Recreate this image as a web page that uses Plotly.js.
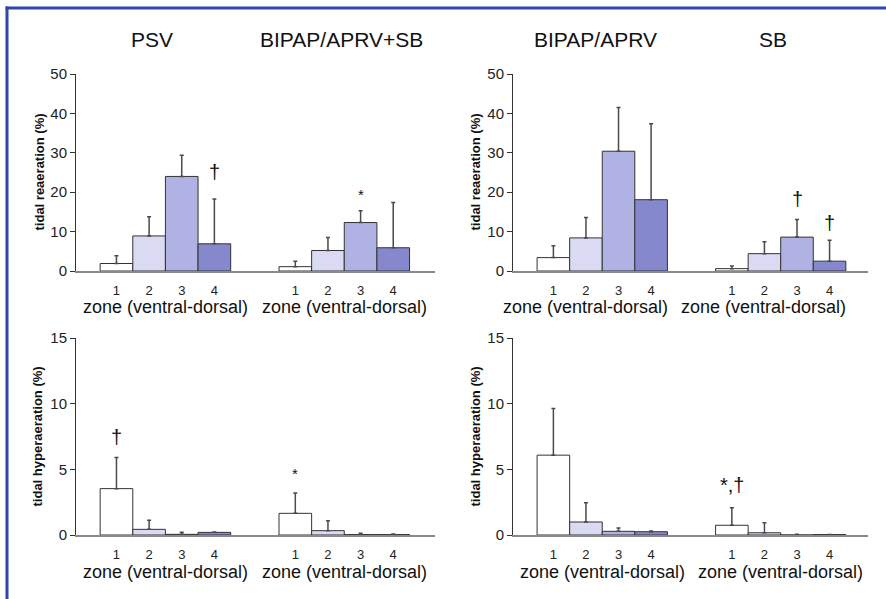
<!DOCTYPE html>
<html>
<head>
<meta charset="utf-8">
<script src="https://cdn.plot.ly/plotly-3.0.1.min.js"></script>
<style>html,body{margin:0;padding:0;background:#fff;}#chart{width:886px;height:599px;}</style>
</head>
<body>
<div id="chart"></div>
<script>
// ---- data ----
const zones = ['1', '2', '3', '4'];
const modeTitlesLeft = ['PSV', 'BIPAP/APRV+SB'];
const modeTitlesRight = ['BIPAP/APRV', 'SB'];
const xAxisLabel = 'zone (ventral-dorsal)';
const yLabelTop = 'tidal reaeration (%)';
const yLabelBottom = 'tidal hyperaeration (%)';

// tidal reaeration (mean, SD)
const reaerPSV = [1.9, 8.9, 24.0, 6.9];
const reaerPSV_sd = [2.0, 4.9, 5.4, 11.4];
const reaerBipapSB = [1.1, 5.2, 12.3, 5.9];
const reaerBipapSB_sd = [1.4, 3.3, 3.0, 11.5];
const reaerBipap = [3.4, 8.4, 30.4, 18.1];
const reaerBipap_sd = [3.0, 5.2, 11.1, 19.3];
const reaerSB = [0.6, 4.4, 8.6, 2.5];
const reaerSB_sd = [0.7, 3.0, 4.5, 5.3];

// tidal hyperaeration (mean, SD)
const hyperPSV = [3.53, 0.43, 0.05, 0.2];
const hyperPSV_sd = [2.37, 0.69, 0.15, 0.03];
const hyperBipapSB = [1.65, 0.33, 0.03, 0.03];
const hyperBipapSB_sd = [1.55, 0.76, 0.1, 0.05];
const hyperBipap = [6.08, 0.99, 0.28, 0.25];
const hyperBipap_sd = [3.55, 1.47, 0.25, 0.05];
const hyperSB = [0.74, 0.17, 0.0, 0.03];
const hyperSB_sd = [1.34, 0.77, 0.05, 0.0];

// significance marks: panel, group, zone index, text, y value
const sigPanel = [0, 0, 1, 1, 2, 2, 3];
const sigGroup = [0, 1, 1, 1, 0, 1, 1];
const sigZone  = [3, 2, 2, 3, 0, 0, 0];
const sigText  = ['†', '*', '†', '†', '†', '*', '*,†'];
const sigY     = [25.0, 19.4, 18.3, 12.1, 7.5, 4.65, 3.8];

// ---- styles / layout ----
const zoneColors = ['#ffffff', '#dadaf3', '#b0b2e3', '#8688cd'];
const groupOffset = [1.24, 6.72];
const FONT = 'Liberation Sans, Arial, Helvetica, sans-serif';
const W = 886, H = 599;
const px = v => v / W;
const py = v => (H - v) / H;

const panels = [
  {xa: 'x',  ya: 'y',  ymax: 50, ytitle: yLabelTop,    titles: modeTitlesLeft,  groups: [[reaerPSV, reaerPSV_sd], [reaerBipapSB, reaerBipapSB_sd]],
   xd: [76, 435], yd: [74, 271], xrange: 11.0, zoneY: 307, titleX: [152, 341], ytitleX: 39},
  {xa: 'x2', ya: 'y2', ymax: 50, ytitle: yLabelTop,    titles: modeTitlesRight, groups: [[reaerBipap, reaerBipap_sd], [reaerSB, reaerSB_sd]],
   xd: [513, 868], yd: [74, 271], xrange: 10.9, zoneY: 307, titleX: [595, 773], ytitleX: 475, zoneShift: -17},
  {xa: 'x3', ya: 'y3', ymax: 15, ytitle: yLabelBottom, titles: null, groups: [[hyperPSV, hyperPSV_sd], [hyperBipapSB, hyperBipapSB_sd]],
   xd: [76, 435], yd: [338, 535], xrange: 11.0, zoneY: 572, ytitleX: 37},
  {xa: 'x4', ya: 'y4', ymax: 15, ytitle: yLabelBottom, titles: null, groups: [[hyperBipap, hyperBipap_sd], [hyperSB, hyperSB_sd]],
   xd: [513, 868], yd: [338, 535], xrange: 10.9, zoneY: 572, ytitleX: 475}
];

const traces = [];
const layout = {
  width: W, height: H,
  margin: {l: 0, r: 0, t: 0, b: 0},
  paper_bgcolor: '#ffffff', plot_bgcolor: '#ffffff',
  font: {family: FONT, color: '#222'},
  showlegend: false,
  barmode: 'overlay',
  annotations: [],
  shapes: [
    {type: 'line', xref: 'paper', yref: 'paper', x0: px(7), x1: px(7), y0: -0.05, y1: py(6.5), line: {color: '#2e47a8', width: 3}},
    {type: 'line', xref: 'paper', yref: 'paper', x0: px(5.5), x1: 1.05, y0: py(8), y1: py(8), line: {color: '#2e47a8', width: 3}}
  ]
};

panels.forEach((p, pi) => {
  const sfx = pi === 0 ? '' : String(pi + 1);
  const tickvals = [];
  const ticktext = [];
  p.groups.forEach((g, gi) => {
    const xs = zones.map((z, i) => groupOffset[gi] + i);
    xs.forEach((x, i) => { tickvals.push(x); ticktext.push(zones[i]); });
    traces.push({
      type: 'bar', x: xs, y: g[0], width: 1,
      xaxis: p.xa, yaxis: p.ya,
      marker: {color: zoneColors, line: {color: '#333333', width: 1}},
      error_y: {type: 'data', symmetric: false, array: g[1], arrayminus: g[1].map(() => 0),
                color: '#4a4a4a', thickness: 1.5, width: 2},
      hoverinfo: 'skip'
    });
    layout.annotations.push({
      xref: p.xa, yref: 'paper', x: groupOffset[gi] + 1.5 + (p.zoneShift ? p.zoneShift / 32.6 : 0), y: py(p.zoneY),
      text: xAxisLabel, showarrow: false, xanchor: 'center', yanchor: 'middle',
      font: {size: 18, color: '#111', family: FONT}
    });
    if (p.titles) {
      layout.annotations.push({
        xref: 'paper', yref: 'paper', x: px(p.titleX[gi]), y: py(40),
        text: p.titles[gi], showarrow: false, xanchor: 'center', yanchor: 'middle',
        font: {size: 21, color: '#111', family: FONT}
      });
    }
  });
  layout['xaxis' + sfx] = {
    domain: [px(p.xd[0]), px(p.xd[1])], range: [0, p.xrange], anchor: p.ya,
    showline: true, linecolor: '#8a8a8a', linewidth: 2, showgrid: false, zeroline: false,
    ticks: '', tickmode: 'array', tickvals: tickvals, ticktext: ticktext,
    tickfont: {size: 13, color: '#222'}, ticklabelstandoff: 6, fixedrange: true
  };
  layout['yaxis' + sfx] = {
    domain: [py(p.yd[1]), py(p.yd[0])], range: [0, p.ymax], anchor: p.xa,
    showline: true, linecolor: '#333', linewidth: 1, showgrid: false, zeroline: false,
    ticks: 'outside', ticklen: 5, tickcolor: '#333', tickwidth: 1,
    tickmode: 'linear', tick0: 0, dtick: p.ymax === 50 ? 10 : 5,
    tickfont: {size: 15, color: '#222'}, fixedrange: true
  };
  layout.annotations.push({
    xref: 'paper', yref: 'paper', x: px(p.ytitleX), y: py((p.yd[0] + p.yd[1]) / 2),
    text: '<b>' + p.ytitle + '</b>', textangle: -90, showarrow: false,
    xanchor: 'center', yanchor: 'middle', font: {size: 13, color: '#111', family: FONT}
  });
});

sigText.forEach((t, k) => {
  const p = panels[sigPanel[k]];
  layout.annotations.push({
    xref: p.xa, yref: p.ya, x: groupOffset[sigGroup[k]] + sigZone[k], y: sigY[k],
    text: t, showarrow: false, xanchor: 'center', yanchor: 'middle',
    font: {size: t === '*' ? 15 : 20, color: '#111', family: FONT}
  });
});

Plotly.newPlot('chart', traces, layout, {staticPlot: true, displayModeBar: false});
</script>
</body>
</html>
